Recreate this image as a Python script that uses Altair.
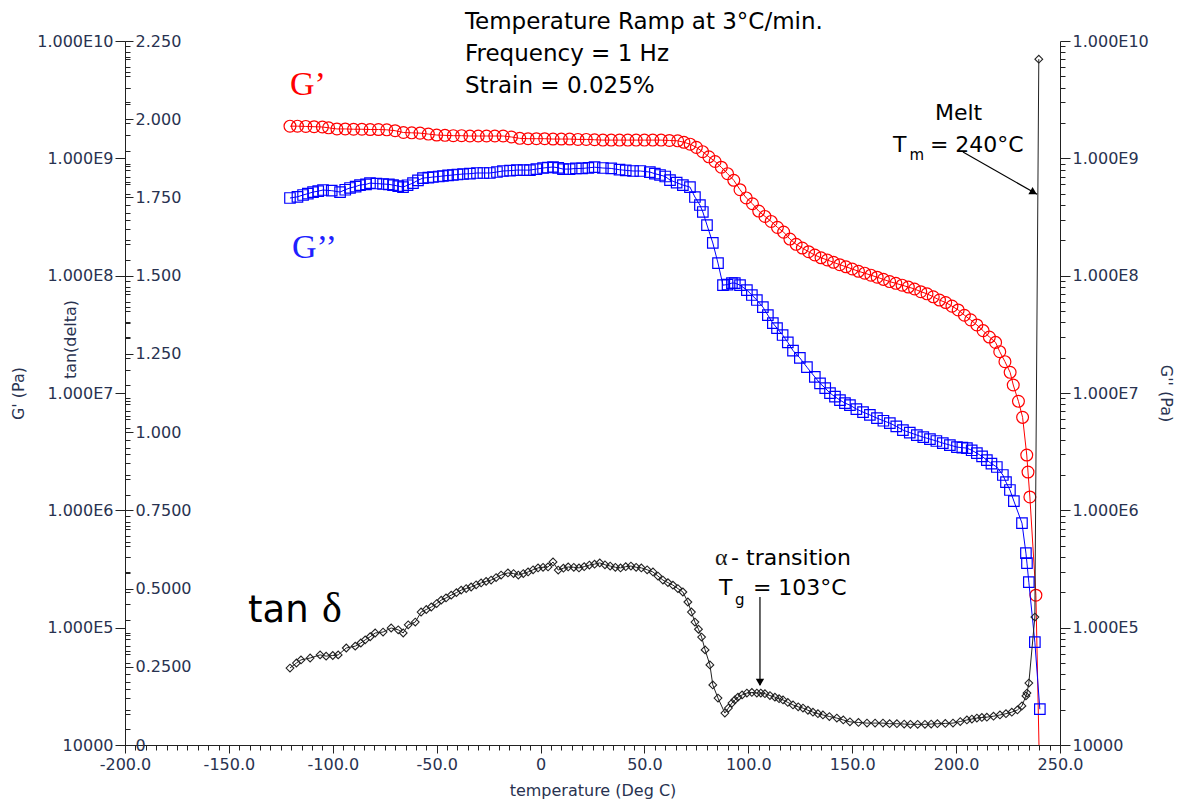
import altair as alt
import pandas as pd

# ---------------- data ----------------
# G' (red circles), Pa
gp_temp = [-120.6, -117, -113, -109, -105, -102, -98, -94, -90, -86, -82, -78, -74, -70, -66, -62,
           -58, -54, -50, -46, -42, -38, -34, -30, -26, -22, -18, -14, -10, -6, -2, 2, 6, 10, 14, 18,
           22, 26, 30, 34, 38, 42, 46, 50, 54, 58, 62, 66, 69, 72, 75, 78, 81, 84, 87, 90, 93, 96,
           99, 102, 105, 108, 111, 114, 117, 120, 123, 126, 129, 132, 135, 138, 141, 144, 147, 150,
           153, 156, 159, 162, 165, 168, 171, 174, 177, 180, 183, 186, 189, 192, 195, 198, 201, 204,
           207, 210, 213, 216, 219, 221, 223.5, 226, 227.5, 230, 232, 234, 234.6, 235.5, 238.4, 240.5]
gp_val = [1.88e9, 1.88e9, 1.87e9, 1.86e9, 1.85e9, 1.82e9, 1.78e9, 1.78e9, 1.77e9, 1.77e9, 1.76e9,
          1.76e9, 1.75e9, 1.72e9, 1.66e9, 1.65e9, 1.64e9, 1.61e9, 1.58e9, 1.57e9, 1.56e9, 1.56e9,
          1.55e9, 1.55e9, 1.55e9, 1.55e9, 1.55e9, 1.52e9, 1.48e9, 1.47e9, 1.47e9, 1.47e9, 1.46e9,
          1.46e9, 1.46e9, 1.45e9, 1.45e9, 1.44e9, 1.43e9, 1.43e9, 1.43e9, 1.43e9, 1.43e9, 1.43e9,
          1.43e9, 1.43e9, 1.42e9, 1.41e9, 1.37e9, 1.32e9, 1.24e9, 1.14e9, 1.03e9, 9.4e8, 8.4e8,
          7.4e8, 6.5e8, 5.4e8, 4.6e8, 4.1e8, 3.55e8, 3.2e8, 2.9e8, 2.58e8, 2.35e8, 2.05e8, 1.85e8,
          1.72e8, 1.6e8, 1.5e8, 1.42e8, 1.36e8, 1.3e8, 1.24e8, 1.19e8, 1.14e8, 1.09e8, 1.05e8,
          1.01e8, 9.7e7, 9.3e7, 8.9e7, 8.6e7, 8.3e7, 8.0e7, 7.7e7, 7.3e7, 7.0e7, 6.6e7, 6.2e7,
          5.9e7, 5.5e7, 5.1e7, 4.6e7, 4.2e7, 3.8e7, 3.4e7, 3.0e7, 2.7e7, 2.25e7, 1.85e7, 1.5e7,
          1.17e7, 8.5e6, 6.2e6, 2.96e6, 2.12e6, 1.3e6, 1.89e5, 3.0e3]

# G'' (blue squares), Pa
gpp_temp = [-120.6, -117, -114.3, -112, -109.5, -107, -104.7, -100.5, -96.5, -94, -91.7, -89, -86.9,
            -84, -82.1, -79, -75.8, -73, -71, -68.5, -66.2, -64, -61.4, -59, -56.6, -54, -51.8, -49,
            -47, -44.5, -42.2, -40, -37.3, -34, -30.6, -27.5, -24.4, -21, -18.1, -14.7, -11.4, -8.2,
            -5.1, -2, 1.2, 3.5, 6, 8.5, 10.8, 14, 17, 20, 23, 26, 30, 34, 38, 41, 44.5, 48, 52.6, 55,
            57.5, 60, 62.3, 65.5, 68.5, 71.9, 74.3, 76.7, 78.1, 80.1, 82.9, 85.4, 87.8, 90, 92.1,
            93.5, 96, 99.3, 101.7, 104.1, 107, 109.4, 111.8, 113.8, 116.5, 119, 121.5, 124.8, 128.2,
            132, 134.5, 137, 139.3, 141.7, 144.1, 146.5, 148.9, 152, 155.2, 158.5, 161.9, 165, 168.1,
            171.2, 174.4, 177.7, 181.1, 184.2, 187.4, 190.5, 193.6, 197, 200.4, 203, 205.2, 207.5,
            210, 212.5, 214.8, 217, 219.6, 222.5, 224, 225.9, 227.8, 231.7, 233.6, 234.1, 235,
            237.9, 240.3]
gpp_val = [4.59e8, 4.7e8, 4.87e8, 5.0e8, 5.16e8, 5.25e8, 5.37e8, 5.3e8, 5.16e8, 5.4e8, 5.59e8,
           5.75e8, 5.92e8, 6.0e8, 6.15e8, 6.1e8, 6.04e8, 6.0e8, 5.92e8, 5.8e8, 5.69e8, 5.9e8,
           6.15e8, 6.5e8, 6.79e8, 6.85e8, 6.93e8, 7.0e8, 7.07e8, 7.15e8, 7.21e8, 7.28e8, 7.35e8,
           7.4e8, 7.5e8, 7.5e8, 7.5e8, 7.65e8, 7.8e8, 7.85e8, 7.94e8, 7.94e8, 7.94e8, 8.1e8, 8.27e8,
           8.35e8, 8.44e8, 8.3e8, 8.1e8, 8.1e8, 8.2e8, 8.2e8, 8.3e8, 8.4e8, 8.27e8, 8.2e8, 8.0e8,
           7.9e8, 7.8e8, 7.8e8, 7.64e8, 7.4e8, 7.21e8, 7.0e8, 6.53e8, 6.2e8, 5.92e8, 5.69e8, 4.68e8,
           4.0e8, 3.49e8, 2.7e8, 1.9e8, 1.28e8, 8.3e7, 8.4e7, 8.65e7, 8.65e7, 8.3e7, 7.54e7, 6.84e7,
           6.2e7, 5.4e7, 4.61e7, 3.94e7, 3.57e7, 3.12e7, 2.7e7, 2.3e7, 1.99e7, 1.66e7, 1.37e7,
           1.21e7, 1.1e7, 9.97e6, 9.3e6, 8.7e6, 8.2e6, 7.88e6, 7.3e6, 6.87e6, 6.5e6, 6.11e6, 5.8e6,
           5.54e6, 5.2e6, 4.83e6, 4.6e6, 4.38e6, 4.2e6, 4.05e6, 3.9e6, 3.74e6, 3.6e6, 3.46e6,
           3.42e6, 3.39e6, 3.25e6, 3.07e6, 2.88e6, 2.68e6, 2.5e6, 2.34e6, 2.0e6, 1.74e6, 1.49e6,
           1.2e6, 7.78e5, 4.32e5, 3.55e5, 2.44e5, 7.52e4, 2.02e4]

# tan(delta) (black diamonds)
tan_temp = [-120.6, -117.5, -115.3, -110.9, -106.1, -103.2, -100, -97.4, -93.5, -89.2, -86.5, -84.4,
            -82, -79.6, -75.8, -71.9, -68.5, -66.1, -63.7, -60.3, -57.5, -55, -52.6, -50, -47.8,
            -45.5, -43, -40.5, -38.2, -35.8, -33.4, -31, -28.6, -26.2, -23.8, -21.4, -19, -15.7, -13,
            -10.7, -8.3, -6, -3.6, -1.2, 1.2, 3.6, 6, 8.5, 11, 13.3, 16, 18.5, 21, 23.5, 26, 28.5, 31,
            33.5, 36, 38.5, 41, 43.5, 46, 48.5, 51.3, 54.1, 56.5, 58.9, 61.3, 63.7, 66.1, 68.5, 70.9,
            72.6, 74.3, 76, 77.5, 79.2, 81.5, 82.9, 85.4, 88.7, 90.4, 92.1, 93.5, 95, 97, 99.3, 101.7,
            104.1, 106, 108, 110.4, 112.8, 114.8, 116.7, 119, 121.5, 124, 126.3, 128.7, 131.1, 133.5,
            135.9, 139, 142.6, 145.7, 148.9, 153, 157.1, 161, 164.8, 168, 171.5, 175, 178, 181.5, 185,
            188, 191, 194.8, 198.5, 202, 205.2, 207.6, 210, 212.4, 214.8, 218, 221.1, 224, 226.8,
            229.5, 231.7, 233.6, 234.1, 235, 237.9, 239.8]
tan_val = [0.246, 0.262, 0.272, 0.278, 0.288, 0.284, 0.286, 0.288, 0.310, 0.316, 0.326, 0.336,
           0.346, 0.358, 0.361, 0.374, 0.368, 0.358, 0.384, 0.393, 0.425, 0.433, 0.441, 0.452, 0.463,
           0.470, 0.479, 0.487, 0.495, 0.500, 0.505, 0.512, 0.518, 0.523, 0.527, 0.535, 0.543, 0.550,
           0.548, 0.543, 0.548, 0.553, 0.560, 0.566, 0.568, 0.569, 0.585, 0.559, 0.565, 0.569, 0.568,
           0.566, 0.570, 0.575, 0.578, 0.582, 0.576, 0.572, 0.568, 0.566, 0.570, 0.572, 0.568, 0.566,
           0.560, 0.553, 0.540, 0.527, 0.519, 0.511, 0.500, 0.489, 0.457, 0.425, 0.393, 0.370, 0.345,
           0.304, 0.256, 0.192, 0.150, 0.102, 0.118, 0.134, 0.144, 0.153, 0.160, 0.166, 0.168, 0.166,
           0.166, 0.164, 0.158, 0.153, 0.148, 0.144, 0.136, 0.128, 0.122, 0.118, 0.111, 0.105, 0.100,
           0.096, 0.091, 0.086, 0.080, 0.074, 0.072, 0.070, 0.070, 0.070, 0.068, 0.068, 0.067, 0.066,
           0.066, 0.066, 0.067, 0.068, 0.069, 0.070, 0.075, 0.080, 0.083, 0.086, 0.088, 0.089, 0.092,
           0.096, 0.100, 0.105, 0.112, 0.125, 0.157, 0.166, 0.198, 0.409, 2.192]

# axis tick values
x_major = [-200, -150, -100, -50, 0, 50, 100, 150, 200, 250]
x_minor = list(range(-200, 251, 5))
log_major = [1e4, 1e5, 1e6, 1e7, 1e8, 1e9, 1e10]
log_minor = [m * 10 ** k for k in range(4, 10) for m in range(2, 10)]
tan_major = [0, 0.25, 0.5, 0.75, 1.0, 1.25, 1.5, 1.75, 2.0, 2.25]
tan_minor = [round(i * 0.05, 2) for i in range(46)]

# annotations (temperature, tan-delta position)
sans_text = ["Temperature Ramp at 3°C/min.", "Frequency = 1 Hz", "Strain = 0.025%", "Melt", "T", "m",
             "= 240°C", "- transition", "T", "g", "= 103°C", "tan"]
sans_T = [-36.4, -36.4, -36.4, 189.8, 169.6, 177.6, 187.4, 91.7, 85.9, 93.6, 102.2, -140.8]
sans_v = [2.288, 2.186, 2.084, 1.997, 1.895, 1.870, 1.895, 0.575, 0.479, 0.447, 0.479, 0.393]
sans_size = [23, 23, 23, 22, 22, 15, 22, 22, 22, 15, 22, 37]
sans_color = ["black"] * 12

serif_text = ["G’", "G’’", "δ", "α"]
serif_T = [-120.6, -119.6, -105.2, 84.0]
serif_v = [2.077, 1.556, 0.393, 0.575]
serif_size = [34, 34, 42, 24]
serif_color = ["#ff0000", "#2020ff", "black", "#1a1a1a"]

arrow_T = [105.6, 203.3]
arrow_v = [0.473, 1.895]
arrow_T2 = [105.6, 239.0]
arrow_v2 = [0.192, 1.760]
head_T = [105.6, 237.3]
head_v = [0.200, 1.766]
head_shape = ["triangle-down", "triangle-right"]
head_angle = [0, 30]

# ---------------- chart ----------------
W, H = 935, 704
FONT = "DejaVu Sans"
LC = "#283250"
AX = "#222222"

df_gp = pd.DataFrame({"T": gp_temp, "v": gp_val})
df_gpp = pd.DataFrame({"T": gpp_temp, "v": gpp_val})
df_tan = pd.DataFrame({"T": tan_temp, "v": tan_val})
df_sans = pd.DataFrame({"T": sans_T, "v": sans_v, "label": sans_text, "fs": sans_size, "col": sans_color})
df_serif = pd.DataFrame({"T": serif_T, "v": serif_v, "label": serif_text, "fs": serif_size, "col": serif_color})
df_arrow = pd.DataFrame({"T": arrow_T, "v": arrow_v, "T2": arrow_T2, "v2": arrow_v2})
df_head = pd.DataFrame({"T": head_T, "v": head_v, "shape": head_shape, "ang": head_angle})


def xs():
    return alt.Scale(domain=[-200, 250], nice=False, zero=False)


def logs():
    return alt.Scale(type="log", domain=[1e4, 1e10], nice=False)


def tans():
    return alt.Scale(domain=[0, 2.25], nice=False, zero=False)


common = dict(grid=False, labelFont=FONT, labelFontSize=16, labelColor=LC, titleFont=FONT,
              titleFontSize=16, titleFontWeight="normal", titleColor=LC, domainColor=AX,
              tickColor=AX, tickWidth=1, domainWidth=1, labelFlush=False, labelOverlap=False)
minor = dict(grid=False, labels=False, domain=False, title=None, tickColor=AX, tickWidth=1)

LOGFMT = "datum.value == 10000 ? '10000' : '1.000E' + round(log(datum.value) / LN10)"

ax_x = alt.Axis(orient="bottom", values=x_major,
                labelExpr="datum.value == 0 ? '0' : datum.value + '.0'",
                tickSize=8, labelPadding=3, title="temperature (Deg C)",
                titleX=W / 2, titleY=50, titleAlign="center", titleBaseline="alphabetic", **common)
ax_x_minor = alt.Axis(orient="bottom", values=x_minor, tickSize=5, **minor)
ax_gp = alt.Axis(orient="left", values=log_major, labelExpr=LOGFMT, tickSize=10, labelPadding=2,
                 title="G' (Pa)", titleAngle=270, titleX=-107, titleY=H / 2, titleAlign="center",
                 titleBaseline="middle", **common)
ax_gp_minor = alt.Axis(orient="right", offset=-W, values=log_minor, tickSize=5, **minor)
ax_gpp = alt.Axis(orient="right", values=log_major, labelExpr=LOGFMT, tickSize=10, labelPadding=2,
                  title="G'' (Pa)", titleAngle=90, titleX=105, titleY=H / 2, titleAlign="center",
                  titleBaseline="middle", **common)
ax_gpp_minor = alt.Axis(orient="right", values=log_minor, tickSize=5, **minor)
tan_common = dict(common)
tan_common["domain"] = False
ax_tan = alt.Axis(orient="right", offset=-W, values=tan_major,
                  labelExpr="datum.value == 0 ? '0' : format(datum.value, '.4r')",
                  tickSize=8, labelPadding=2, title="tan(delta)", titleAngle=270, titleX=-55,
                  titleY=H * 298 / 704, titleAlign="center", titleBaseline="middle", **tan_common)
ax_tan_minor = alt.Axis(orient="right", offset=-W, values=tan_minor, tickSize=5, **minor)

RED = "#ff0000"
BLUE = "#0000ff"
BLK = "#222222"

red_line = alt.Chart(df_gp).mark_line(color=RED, strokeWidth=1, clip=True).encode(
    x=alt.X("T:Q", scale=xs(), axis=ax_x), y=alt.Y("v:Q", scale=logs(), axis=ax_gp))
red_pts = alt.Chart(df_gp).mark_point(shape="circle", filled=False, size=140, color=RED,
                                      strokeWidth=1.2, opacity=1, clip=True).encode(
    x=alt.X("T:Q", scale=xs(), axis=None), y=alt.Y("v:Q", scale=logs(), axis=None))

blue_line = alt.Chart(df_gpp).mark_line(color=BLUE, strokeWidth=1, clip=True).encode(
    x=alt.X("T:Q", scale=xs(), axis=ax_x_minor), y=alt.Y("v:Q", scale=logs(), axis=ax_gpp))
blue_pts = alt.Chart(df_gpp).mark_point(shape="square", filled=False, size=110, color=BLUE,
                                        strokeWidth=1.2, opacity=1, clip=True).encode(
    x=alt.X("T:Q", scale=xs(), axis=None), y=alt.Y("v:Q", scale=logs(), axis=None))

tan_line = alt.Chart(df_tan).mark_line(color=BLK, strokeWidth=1, clip=True).encode(
    x=alt.X("T:Q", scale=xs(), axis=None), y=alt.Y("v:Q", scale=tans(), axis=ax_tan))
tan_pts = alt.Chart(df_tan).mark_point(shape="diamond", filled=False, size=60, color=BLK,
                                       strokeWidth=1.1, opacity=1, clip=True).encode(
    x=alt.X("T:Q", scale=xs(), axis=None), y=alt.Y("v:Q", scale=tans(), axis=None))

gp_minor = alt.Chart(df_gp).mark_point(opacity=0).encode(
    x=alt.X("T:Q", scale=xs(), axis=None), y=alt.Y("v:Q", scale=logs(), axis=ax_gp_minor))
gpp_minor = alt.Chart(df_gpp).mark_point(opacity=0).encode(
    x=alt.X("T:Q", scale=xs(), axis=None), y=alt.Y("v:Q", scale=logs(), axis=ax_gpp_minor))
tan_minor_l = alt.Chart(df_tan).mark_point(opacity=0).encode(
    x=alt.X("T:Q", scale=xs(), axis=None), y=alt.Y("v:Q", scale=tans(), axis=ax_tan_minor))

sans = alt.Chart(df_sans).mark_text(font=FONT, align="left", baseline="alphabetic").encode(
    x=alt.X("T:Q", scale=xs(), axis=None), y=alt.Y("v:Q", scale=tans(), axis=None),
    text="label:N", size=alt.Size("fs:Q", scale=None, legend=None),
    color=alt.Color("col:N", scale=None, legend=None))
serif = alt.Chart(df_serif).mark_text(font="Liberation Serif", align="left",
                                      baseline="alphabetic").encode(
    x=alt.X("T:Q", scale=xs(), axis=None), y=alt.Y("v:Q", scale=tans(), axis=None),
    text="label:N", size=alt.Size("fs:Q", scale=None, legend=None),
    color=alt.Color("col:N", scale=None, legend=None))
arrows = alt.Chart(df_arrow).mark_rule(color="black", strokeWidth=1.2).encode(
    x=alt.X("T:Q", scale=xs(), axis=None), x2="T2:Q",
    y=alt.Y("v:Q", scale=tans(), axis=None), y2="v2:Q")
heads = alt.Chart(df_head).mark_point(filled=True, color="black", size=70, opacity=1).encode(
    x=alt.X("T:Q", scale=xs(), axis=None), y=alt.Y("v:Q", scale=tans(), axis=None),
    shape=alt.Shape("shape:N", scale=None, legend=None),
    angle=alt.Angle("ang:Q", scale=None, legend=None))

chart = alt.layer(
    gp_minor, gpp_minor, tan_minor_l,
    red_line, red_pts, blue_line, blue_pts, tan_line, tan_pts,
    arrows, heads, sans, serif,
).resolve_scale(
    x="independent", y="independent"
).properties(
    width=W, height=H,
    padding={"left": 117, "top": 33, "right": 116, "bottom": 55},
    autosize=alt.AutoSizeParams(type="none"),
    background="white",
).configure_view(stroke=None)

chart.save("out.html", embed_options={"renderer": "svg", "actions": False})
